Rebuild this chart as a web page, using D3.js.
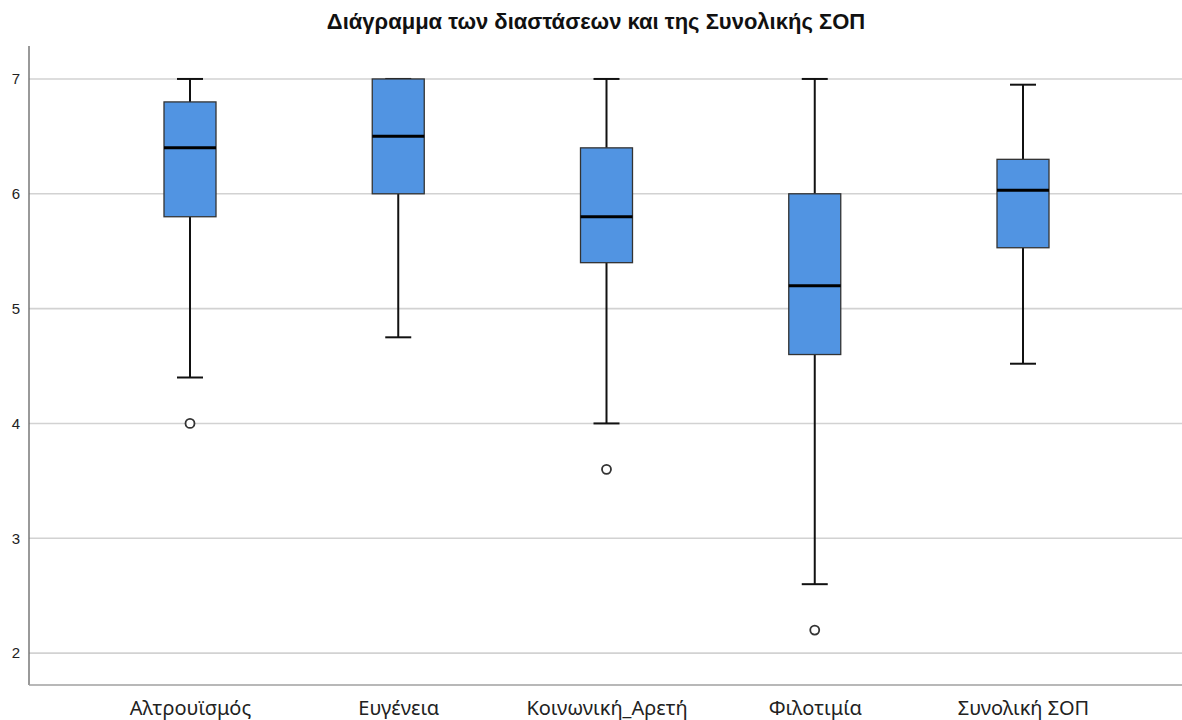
<!DOCTYPE html>
<html>
<head>
<meta charset="utf-8">
<script src="https://cdn.jsdelivr.net/npm/d3@7"></script>
<style>
  html, body { margin: 0; padding: 0; background: #fff; }
  svg { display: block; font-family: "Liberation Sans", Arial, sans-serif; }
</style>
</head>
<body>
<svg id="chart" width="1182" height="720"></svg>
<script>
// Dimensions of the scale and their five-number summaries
const categories = ["Αλτρουϊσμός", "Ευγένεια", "Κοινωνική_Αρετή", "Φιλοτιμία", "Συνολική ΣΟΠ"];
const whiskerLow  = [4.4, 4.75, 4.0, 2.6, 4.52];
const quartile1   = [5.8, 6.0, 5.4, 4.6, 5.53];
const medians     = [6.4, 6.5, 5.8, 5.2, 6.03];
const quartile3   = [6.8, 7.0, 6.4, 6.0, 6.3];
const whiskerHigh = [7.0, 7.0, 7.0, 7.0, 6.95];
const outliers    = [[4.0], [], [3.6], [2.2], []];
const yTicks      = [2, 3, 4, 5, 6, 7];
const title = "Διάγραμμα των διαστάσεων και της Συνολικής ΣΟΠ";

const data = categories.map((c, i) => ({
  name: c, lo: whiskerLow[i], q1: quartile1[i], med: medians[i],
  q3: quartile3[i], hi: whiskerHigh[i], out: outliers[i]
}));

const svg = d3.select("#chart");
const plotLeft = 29, plotRight = 1182, plotTop = 46, plotBottom = 685;

const y = d3.scaleLinear().domain([1.722, 7.287]).range([plotBottom, plotTop]);
const xc = d3.scalePoint().domain(categories).range([190, 1023]);

const boxW = 52, capW = 26;

// horizontal gridlines
svg.append("g")
  .selectAll("line")
  .data(yTicks)
  .join("line")
  .attr("x1", plotLeft).attr("x2", plotRight)
  .attr("y1", d => y(d)).attr("y2", d => y(d))
  .attr("stroke", "#d2d2d2").attr("stroke-width", 1.6);

// y axis
const yAxis = d3.axisLeft(y).tickValues(yTicks).tickSize(0).tickPadding(9).tickFormat(d3.format("d"));
const gy = svg.append("g").attr("transform", `translate(${plotLeft},0)`).call(yAxis);
gy.select(".domain").remove();
gy.selectAll("text").attr("font-size", 15).attr("fill", "#222")
  .attr("font-family", "'Liberation Sans', Arial, sans-serif");
svg.append("line").attr("x1", plotLeft).attr("x2", plotLeft).attr("y1", plotTop).attr("y2", plotBottom)
  .attr("stroke", "#6e6e6e").attr("stroke-width", 1.4);

// x axis
const xAxis = d3.axisBottom(xc).tickSize(0).tickPadding(12);
const gx = svg.append("g").attr("transform", `translate(0,${plotBottom})`).call(xAxis);
gx.select(".domain").remove();
gx.selectAll("text").attr("font-size", 20).attr("fill", "#222")
  .attr("font-family", "'Noto Sans', 'Open Sans', sans-serif")
  .attr("dy", 0).attr("y", 30);
svg.append("line").attr("x1", plotLeft).attr("x2", plotRight).attr("y1", plotBottom).attr("y2", plotBottom)
  .attr("stroke", "#a0a0a0").attr("stroke-width", 1.4);

// boxes
const g = svg.append("g").selectAll("g").data(data).join("g")
  .attr("transform", d => `translate(${xc(d.name)},0)`);

// whisker stems
g.append("line").attr("x1", 0).attr("x2", 0)
  .attr("y1", d => y(d.q3)).attr("y2", d => y(d.hi))
  .attr("stroke", "#111").attr("stroke-width", 2);
g.append("line").attr("x1", 0).attr("x2", 0)
  .attr("y1", d => y(d.q1)).attr("y2", d => y(d.lo))
  .attr("stroke", "#111").attr("stroke-width", 2);
// whisker caps
g.append("line").attr("x1", -capW / 2).attr("x2", capW / 2)
  .attr("y1", d => y(d.hi)).attr("y2", d => y(d.hi))
  .attr("stroke", "#111").attr("stroke-width", 2);
g.append("line").attr("x1", -capW / 2).attr("x2", capW / 2)
  .attr("y1", d => y(d.lo)).attr("y2", d => y(d.lo))
  .attr("stroke", "#111").attr("stroke-width", 2);

// interquartile box
g.append("rect")
  .attr("x", -boxW / 2).attr("width", boxW)
  .attr("y", d => y(d.q3)).attr("height", d => y(d.q1) - y(d.q3))
  .attr("fill", "#5194e2").attr("stroke", "#333").attr("stroke-width", 1.3);

// median
g.append("line").attr("x1", -boxW / 2).attr("x2", boxW / 2)
  .attr("y1", d => y(d.med)).attr("y2", d => y(d.med))
  .attr("stroke", "#000").attr("stroke-width", 3);

// outliers
g.selectAll("circle").data(d => d.out).join("circle")
  .attr("cx", 0).attr("cy", v => y(v)).attr("r", 4.5)
  .attr("fill", "#fff").attr("stroke", "#333").attr("stroke-width", 1.8);

// title
svg.append("text").attr("x", 596).attr("y", 29).attr("text-anchor", "middle")
  .attr("font-size", 22).attr("font-weight", "bold").attr("fill", "#111")
  .attr("font-family", "'Liberation Sans', Arial, sans-serif")
  .text(title);
</script>
</body>
</html>
